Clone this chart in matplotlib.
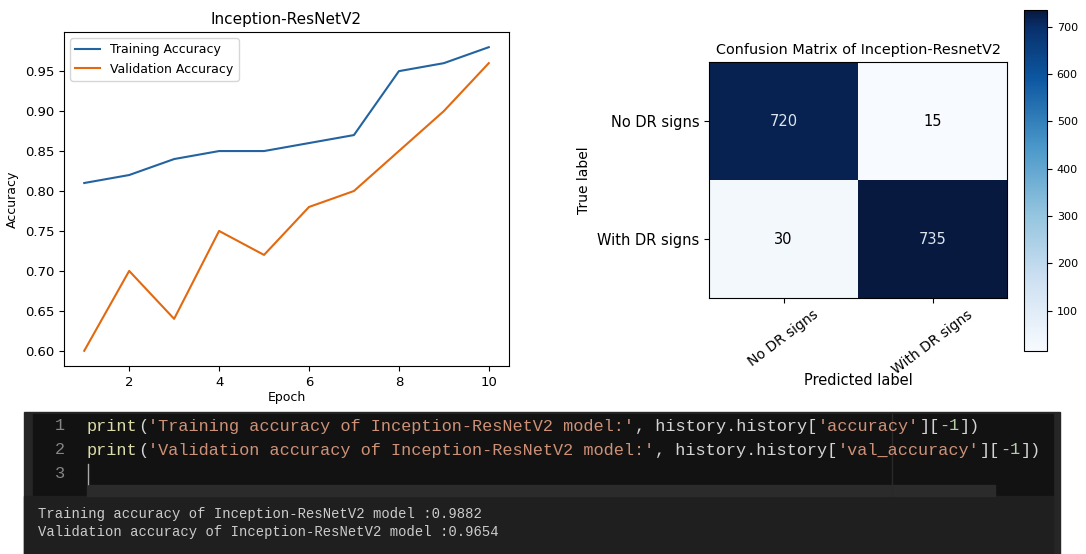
import matplotlib
matplotlib.use("Agg")
import matplotlib.pyplot as plt
from matplotlib.patches import Rectangle
from matplotlib.colors import LinearSegmentedColormap
import numpy as np

epochs = [1, 2, 3, 4, 5, 6, 7, 8, 9, 10]
train_acc = [0.81, 0.82, 0.84, 0.85, 0.85, 0.86, 0.87, 0.95, 0.96, 0.98]
val_acc = [0.60, 0.70, 0.64, 0.75, 0.72, 0.78, 0.80, 0.85, 0.90, 0.96]

class_names = ["No DR signs", "With DR signs"]
cm = np.array([[720, 15],
               [30, 735]])

code_lines = [
    [("print", "#dcdcaa"), ("(", "#d4d4d4"),
     ("'Training accuracy of Inception-ResNetV2 model:'", "#ce9178"),
     (", history.history[", "#d4d4d4"), ("'accuracy'", "#ce9178"),
     ("][", "#d4d4d4"), ("-1", "#b5cea8"), ("])", "#d4d4d4")],
    [("print", "#dcdcaa"), ("(", "#d4d4d4"),
     ("'Validation accuracy of Inception-ResNetV2 model:'", "#ce9178"),
     (", history.history[", "#d4d4d4"), ("'val_accuracy'", "#ce9178"),
     ("][", "#d4d4d4"), ("-1", "#b5cea8"), ("])", "#d4d4d4")],
]
output_lines = [
    "Training accuracy of Inception-ResNetV2 model :0.9882",
    "Validation accuracy of Inception-ResNetV2 model :0.9654",
]

W, H = 1086, 554
fig = plt.figure(figsize=(W / 100, H / 100), dpi=100)

# pixel-space canvas for the editor / console panel
bg = fig.add_axes([0, 0, 1, 1])
bg.set_xlim(0, W)
bg.set_ylim(H, 0)
bg.axis("off")
bg.add_patch(Rectangle((24, 412), 1036, 142, color="#262626", zorder=0))
bg.add_patch(Rectangle((33, 414), 1020, 82, color="#121212", zorder=1))
bg.add_patch(Rectangle((87, 485), 908, 11, color="#2b2b2b", zorder=2))
bg.add_patch(Rectangle((24, 496), 1029, 58, color="#1f1f1f", zorder=1))
bg.plot([892, 892], [414, 496], color="#2a2a2a", lw=1, zorder=2)
bg.plot([88, 88], [464, 484], color="#aaaaaa", lw=1, zorder=3)

mono = "Liberation Mono"
cw = 10.15  # character advance of the code font, px
for i, y in enumerate([426, 450, 474]):
    bg.text(60, y, str(i + 1), color="#858585", fontsize=12.2, family=mono,
            ha="center", va="center", zorder=3)
for line, y in zip(code_lines, [426, 450]):
    x = 87
    for seg, col in line:
        bg.text(x, y, seg, color=col, fontsize=12.2, family=mono,
                ha="left", va="center", zorder=3)
        x += len(seg) * cw
for line, y in zip(output_lines, [514, 532]):
    bg.text(38, y, line, color="#cccccc", fontsize=10, family=mono,
            ha="left", va="center", zorder=3)

# training curves
ax = fig.add_axes([64 / W, 1 - 366 / H, 445 / W, 334 / H])
ax.plot(epochs, train_acc, color="#2363a0", label="Training Accuracy")
ax.plot(epochs, val_acc, color="#e2690f", label="Validation Accuracy")
ax.set_title("Inception-ResNetV2", fontsize=11)
ax.set_xlabel("Epoch", fontsize=9, labelpad=2)
ax.set_ylabel("Accuracy", fontsize=9)
ax.tick_params(labelsize=9.5)
ax.legend(loc="upper left", fontsize=9)

# confusion matrix, Blues with a deeper navy top end
blues = plt.cm.Blues
cmap = LinearSegmentedColormap.from_list(
    "deep_blues",
    [(0.0, blues(0.0)), (0.2, blues(0.2)), (0.4, blues(0.4)),
     (0.6, blues(0.6)), (0.8, blues(0.85)), (0.95, "#08306b"),
     (1.0, "#07193f")])
cax = fig.add_axes([709 / W, 1 - 298 / H, 298 / W, 236 / H])
im = cax.imshow(cm, cmap=cmap, aspect="auto")
cax.set_title("Confusion Matrix of Inception-ResnetV2", fontsize=10.4)
cax.set_xticks(range(len(class_names)))
cax.set_xticklabels(class_names, rotation=37, fontsize=10)
cax.set_yticks(range(len(class_names)))
cax.set_yticklabels(class_names, fontsize=10.5)
cax.set_xlabel("Predicted label", fontsize=10.5, labelpad=-3)
cax.set_ylabel("True label", fontsize=10)
thresh = cm.max() / 2
for i in range(cm.shape[0]):
    for j in range(cm.shape[1]):
        cax.text(j, i, cm[i, j], ha="center", va="center", fontsize=10.5,
                 color="#dde6ef" if cm[i, j] > thresh else "black")

cbax = fig.add_axes([1024 / W, 1 - 351 / H, 23 / W, 341 / H])
cb = fig.colorbar(im, cax=cbax)
cb.ax.tick_params(labelsize=8)

fig.savefig("out.png", dpi=100)
